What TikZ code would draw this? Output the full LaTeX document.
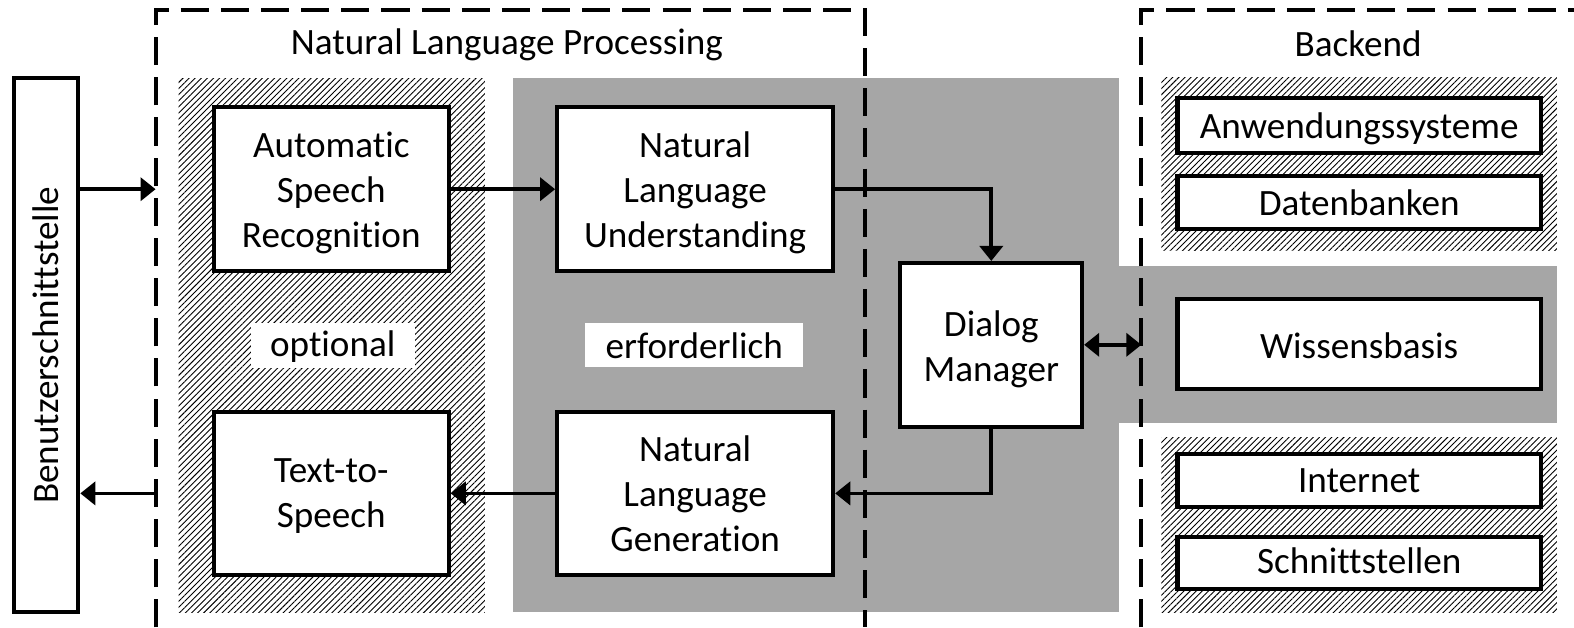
\documentclass[tikz,border=0pt]{standalone}
\usepackage{fontspec}
\setmainfont{Carlito}[Ligatures=NoCommon]
\usetikzlibrary{patterns.meta,arrows.meta}
\definecolor{bggray}{RGB}{166,166,166}
\newcommand\diagfont{\fontsize{18.5}{22.5}\selectfont}
\newcommand\txt[2][2pt]{\raisebox{-#1}[\height][\depth]{\begin{tabular}{@{}c@{}}#2\end{tabular}}}
\tikzset{
  box/.style={draw, line width=2pt, fill=white, align=center, inner sep=0pt, font=\diagfont},
  tag/.style={fill=white, inner sep=0pt, font=\diagfont},
  title/.style={inner sep=0pt, font=\diagfont},
  hatch/.style={pattern={Lines[angle=45,distance=2.15pt,line width=0.45pt]}},
  border/.style={line width=2pt, dash pattern=on 14pt off 6pt},
  conn/.style={line width=1.8pt, -{Triangle[length=7.5pt,width=11.5pt]}},
  biconn/.style={line width=1.8pt, {Triangle[length=7.5pt,width=11.5pt]}-{Triangle[length=7.5pt,width=11.5pt]}}
}
\begin{document}
\begin{tikzpicture}[x=0.5pt,y=-0.5pt]
\useasboundingbox (0,0) rectangle (1568,625);
% backgrounds
\fill[hatch] (178,78) rectangle (483,610);
\fill[bggray] (511,78) rectangle (1115,610);
\fill[bggray] (1115,265) rectangle (1551,421);
\fill[hatch] (1157,77) rectangle (1551,250);
\fill[hatch] (1157,436) rectangle (1551,610);
% dashed borders
\draw[border] (155,625) -- (155,10) -- (862,10) -- (862,625);
\draw[border] (1137,625) -- (1137,10) -- (1568,10);
\node[title] (nlp) at (505,45) {Natural Language Processing};
\node[title] (be) at (1353,44) {Backend};
% boxes
\node[box, rotate=90, minimum width=266pt, minimum height=32pt] (ben) at (46,344) {Benutzerschnittstelle};
\node[box, minimum width=117pt, minimum height=81.5pt] (asr) at (330,188.5) {\txt{Automatic\\Speech\\Recognition}};
\node[box, minimum width=137.5pt, minimum height=81.5pt] (nlu) at (692.5,188.5) {\txt{Natural\\Language\\Understanding}};
\node[box, minimum width=117pt, minimum height=81.5pt] (tts) at (330,491.5) {\txt[1.3pt]{Text-to-\\Speech}};
\node[box, minimum width=137.5pt, minimum height=81.5pt] (nlg) at (692.5,491.5) {\txt{Natural\\Language\\Generation}};
\node[box, minimum width=90.5pt, minimum height=81.5pt] (dm) at (987.5,343.5) {\txt[2.4pt]{Dialog\\Manager}};
\node[box, minimum width=181pt, minimum height=27pt] (anw) at (1354,125) {\txt[1.8pt]{Anwendungssysteme}};
\node[box, minimum width=181pt, minimum height=26.5pt] (dat) at (1354,201.5) {Datenbanken};
\node[box, minimum width=181pt, minimum height=45pt] (wis) at (1354,343) {\txt[2.5pt]{Wissensbasis}};
\node[box, minimum width=181pt, minimum height=26.5pt] (int) at (1354,478.5) {Internet};
\node[box, minimum width=181pt, minimum height=26pt] (sch) at (1354,561) {\txt[0.5pt]{Schnittstellen}};
\node[tag, minimum width=81.5pt, minimum height=22pt] (opt) at (331.5,344) {\txt[1pt]{optional}};
\node[tag, minimum width=108.5pt, minimum height=22pt] (erf) at (691.5,344) {erforderlich};
% connector ends on the borders
\coordinate (inL) at (155,188.5);
\coordinate (outL) at (155,491.5);
\coordinate (beR) at (1137,343.5);
% connectors
\draw[conn] (inL -| ben.south) -- (inL);
\draw[conn] (asr.east) -- (nlu.west);
\draw[conn] (nlu.east) -| (dm.north);
\draw[conn] (dm.south) |- (nlg.east);
\draw[conn] (nlg.west) -- (tts.east);
\draw[conn] (outL) -- (outL -| ben.south);
\draw[biconn] (dm.east) -- (beR);
\end{tikzpicture}
\end{document}
